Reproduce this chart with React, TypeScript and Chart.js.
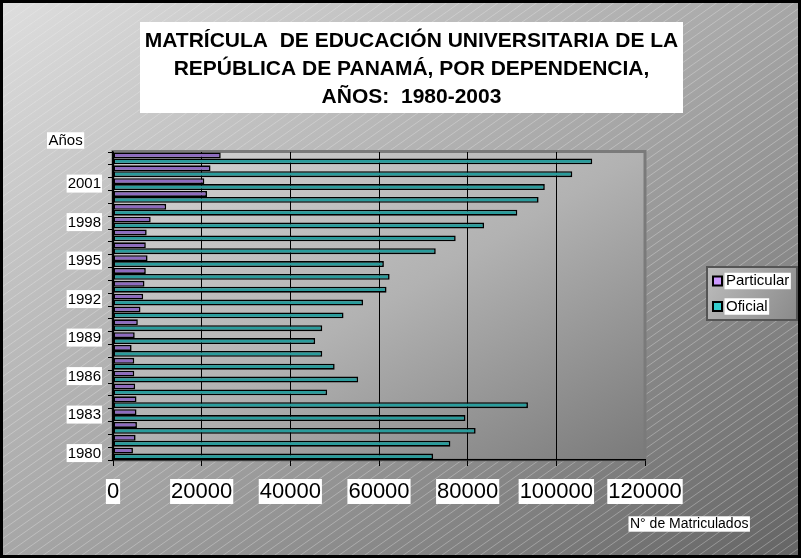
import { useEffect, useRef } from 'react';
import { Chart, registerables } from 'chart.js';

Chart.register(...registerables);

const years = ['1980','1981','1982','1983','1984','1985','1986','1987','1988','1989','1990','1991','1992','1993','1994','1995','1996','1997','1998','1999','2000','2001','2002','2003'];
const particular = [4500,5100,5400,5300,5300,5000,4800,4800,4200,4900,5600,6200,6800,7100,7400,7800,7400,7600,8500,12000,21200,20600,22000,24300];
const oficial = [72200,76100,81800,79500,93600,48300,55300,50000,47200,45600,47200,52000,56400,61700,62400,61100,72800,77300,83700,91200,96000,97400,103600,108100];
const seriesNames = ['Particular', 'Oficial'];
const seriesColors = ['#8e6bc0', '#2a9c9c'];
const legendColors = ['#cc99ff', '#33cccc'];
const titleLines = ['MATRÍCULA  DE EDUCACIÓN UNIVERSITARIA DE LA', 'REPÚBLICA DE PANAMÁ, POR DEPENDENCIA,', 'AÑOS:  1980-2003'];
const yAxisTitle = 'Años';
const xAxisTitle = 'N° de Matriculados';
const xMin = 0;
const xMax = 120000;
const xStep = 20000;
const yLabelEvery = 3;

const FONT = "'Liberation Sans', Arial, Helvetica, sans-serif";

function labelBox(ctx: CanvasRenderingContext2D, text: string, x: number, y: number, size: number, align: CanvasTextAlign = 'left', bold = false) {
  ctx.font = `${bold ? 'bold ' : ''}${size}px ${FONT}`;
  const w = ctx.measureText(text).width;
  let left = x;
  if (align === 'center') left = x - w / 2;
  if (align === 'right') left = x - w;
  ctx.fillStyle = '#ffffff';
  ctx.fillRect(left - 1.5, y - size * 0.55, w + 3, size * 1.1);
  ctx.fillStyle = '#000000';
  ctx.textAlign = 'left';
  ctx.textBaseline = 'middle';
  ctx.fillText(text, left, y);
}

const decor = {
  id: 'decor',
  beforeDraw(chart: any) {
    const { ctx, width, height, chartArea: a } = chart;
    ctx.save();
    // outer background gradient
    const k0 = (2 * width * height) / (width * width + height * height);
    let g = ctx.createLinearGradient(0, 0, k0 * height, k0 * width);
    g.addColorStop(0, '#dedede');
    g.addColorStop(0.5, '#a6a6a6');
    g.addColorStop(1, '#646464');
    ctx.fillStyle = g;
    ctx.fillRect(0, 0, width, height);
    // diagonal hatch
    ctx.strokeStyle = 'rgba(240,240,240,0.33)';
    ctx.lineWidth = 1;
    ctx.beginPath();
    const slope = 0.7;
    for (let c = 0; c < height + width * slope; c += 9) {
      ctx.moveTo(0, c + 0.5);
      ctx.lineTo(width, c - slope * width + 0.5);
    }
    ctx.stroke();
    // plot area
    const w = a.right - a.left;
    const h = a.bottom - a.top;
    const k = (2 * w * h) / (w * w + h * h);
    g = ctx.createLinearGradient(a.left, a.top, a.left + k * h, a.top + k * w);
    g.addColorStop(0, '#d4d4d4');
    g.addColorStop(0.5, '#b2b2b2');
    g.addColorStop(1, '#7a7a7a');
    ctx.fillStyle = g;
    ctx.fillRect(a.left, a.top, w, h);
    ctx.strokeStyle = '#7a7a7a';
    ctx.lineWidth = 3;
    ctx.strokeRect(a.left, a.top - 0.5, w, h + 0.5);
    ctx.restore();
  },
  afterDraw(chart: any) {
    const { ctx, width, height } = chart;
    ctx.save();
    // title
    ctx.fillStyle = '#ffffff';
    ctx.fillRect(140, 22, 543, 91);
    ctx.fillStyle = '#000000';
    ctx.font = `bold 21px ${FONT}`;
    ctx.textAlign = 'center';
    ctx.textBaseline = 'middle';
    titleLines.forEach((t, i) => ctx.fillText(t, 411.5, 41 + i * 28));
    // axis titles
    labelBox(ctx, yAxisTitle, 48.5, 140.5, 15);
    labelBox(ctx, xAxisTitle, 630, 524, 14);
    // legend
    const lx = 707, ly = 267, lw = 90, lh = 53;
    const lg = ctx.createLinearGradient(lx, ly, lx + lw, ly + lh);
    lg.addColorStop(0, '#bdbdbd');
    lg.addColorStop(1, '#8a8a8a');
    ctx.fillStyle = lg;
    ctx.fillRect(lx, ly, lw, lh);
    ctx.strokeStyle = '#555555';
    ctx.lineWidth = 2;
    ctx.strokeRect(lx, ly, lw, lh);
    const itemY = [281, 306.5];
    seriesNames.forEach((name, i) => {
      const y = itemY[i];
      ctx.fillStyle = '#000000';
      ctx.fillRect(712, y - 5.5, 11, 11);
      ctx.fillStyle = legendColors[i];
      ctx.fillRect(714, y - 3.5, 7, 7);
      labelBox(ctx, name, 726, y, 15);
    });
    // outer border
    ctx.strokeStyle = '#000000';
    ctx.lineWidth = 3;
    ctx.strokeRect(1.5, 1.5, width - 3, height - 3);
    ctx.restore();
  },
};

export default function App() {
  const ref = useRef<HTMLCanvasElement | null>(null);
  useEffect(() => {
    document.body.style.margin = '0';
    const canvas = ref.current;
    if (!canvas) return;
    const chart = new Chart(canvas, {
      type: 'bar',
      data: {
        labels: years,
        datasets: [
          { label: seriesNames[0], data: particular, backgroundColor: seriesColors[0] },
          { label: seriesNames[1], data: oficial, backgroundColor: seriesColors[1] },
        ],
      },
      options: {
        indexAxis: 'y',
        responsive: false,
        animation: false,
        devicePixelRatio: 1,
        layout: { padding: { top: 152, right: 156, left: 0, bottom: 0 } },
        datasets: {
          bar: {
            borderColor: '#000000',
            borderWidth: 1.6,
            borderSkipped: false,
            categoryPercentage: 0.92,
            barPercentage: 1,
          },
        },
        scales: {
          x: {
            type: 'linear',
            position: 'bottom',
            min: xMin,
            max: xMax,
            ticks: {
              stepSize: xStep,
              autoSkip: false,
              maxRotation: 0,
              callback: (v: any) => String(v),
              color: '#000000',
              font: { family: FONT, size: 22, lineHeight: 1 },
              padding: 15,
              showLabelBackdrop: true,
              backdropColor: '#ffffff',
              backdropPadding: { top: 2, bottom: 1, left: 1, right: 1 },
            },
            grid: {
              color: (c: any) => (c.tick && c.tick.value === xMax ? 'rgba(0,0,0,0)' : '#000000'),
              lineWidth: 1,
              drawTicks: true,
              tickLength: 6,
              tickColor: '#000000',
            },
            border: { display: true, color: '#000000', width: 1.5 },
            afterFit: (s: any) => { s.height = 98; },
          },
          y: {
            type: 'category',
            position: 'left',
            reverse: true,
            offset: true,
            ticks: {
              autoSkip: false,
              callback: (_v: any, i: number) => (i % yLabelEvery === 0 ? years[i] : ''),
              color: '#000000',
              font: { family: FONT, size: 15, lineHeight: 1 },
              padding: 7,
              showLabelBackdrop: (c: any) => c.index % yLabelEvery === 0,
              backdropColor: '#ffffff',
              backdropPadding: { top: 2, bottom: 1, left: 1, right: 1 },
            },
            grid: {
              drawOnChartArea: false,
              offset: true,
              drawTicks: true,
              tickLength: 5,
              color: '#000000',
              tickColor: '#000000',
            },
            border: { display: true, color: '#000000', width: 1.5 },
            afterFit: (s: any) => { s.width = 113; },
          },
        },
        plugins: {
          legend: { display: false },
          title: { display: false },
          tooltip: { enabled: false },
        },
      } as any,
      plugins: [decor],
    });
    return () => chart.destroy();
  }, []);
  return (
    <div style={{ width: 801, height: 558 }}>
      <canvas ref={ref} width={801} height={558} style={{ display: 'block' }} />
    </div>
  );
}
